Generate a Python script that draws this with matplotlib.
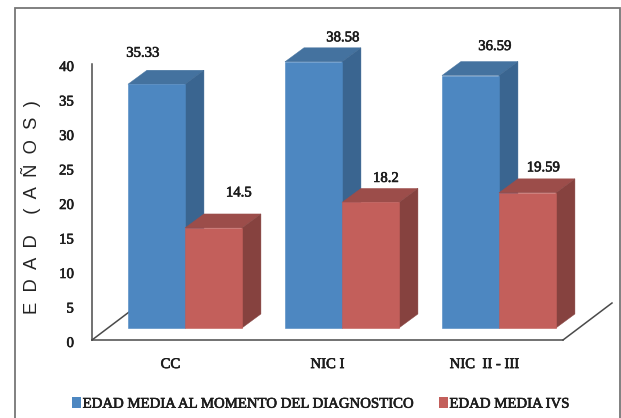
import matplotlib
matplotlib.use("Agg")
import matplotlib.pyplot as plt
import matplotlib.patheffects as pe
from matplotlib.patches import Polygon, Patch, Rectangle
from matplotlib.transforms import ScaledTranslation

categories = ["CC", "NIC I", "NIC  II - III"]
edad_diagnostico = [35.33, 38.58, 36.59]
edad_ivs = [14.5, 18.2, 19.59]
y_ticks = [0, 5, 10, 15, 20, 25, 30, 35, 40]
series_names = ["EDAD MEDIA AL MOMENTO DEL DIAGNOSTICO", "EDAD MEDIA IVS"]

# pixel offsets of each value label from the top of its bar's front face
diag_label_offsets = [(-13.5, 31), (29.5, 24), (24.5, 29)]
ivs_label_offsets = [(25.5, 35), (15.5, 24), (16, 25)]

W, H = 621, 418
SERIF = "Liberation Serif"
TEXT = "#1c1c1c"
BLUE = ("#4d87c1", "#44729f", "#3a6590")
RED = ("#c35f5b", "#9c4d4a", "#86423f")
HEAVY = [pe.withStroke(linewidth=0.45, foreground=TEXT)]

fig = plt.figure(figsize=(W / 100, H / 100), dpi=100, facecolor="white")
ax = fig.add_axes([92 / W, (H - 340) / H, (563 - 92) / W, (340 - 64) / H])
ax.set_xlim(0, 3)
ax.set_ylim(0, 40)
ax.patch.set_visible(False)

# outer frame, running off the bottom of the figure
fig.add_artist(Rectangle((14.5 / W, -0.05), (619.5 - 14.5) / W, (H - 7.5) / H + 0.05,
                         transform=fig.transFigure, fill=False,
                         edgecolor="#767676", linewidth=1.3))

# 3D box geometry, in data units
BAR_W = 0.363
DEPTH_X = 19 / 157
DEPTH_Y = 14 / 6.9
BASE_Y = 12 / 6.9
FIRST_X = 0.229
FLOOR_X = 49 / 157
FLOOR_Y = 37 / 6.9

# floor outline
floor_style = dict(color="#4a4a4a", linewidth=1.1, clip_on=False, zorder=1)
ax.plot([0, FLOOR_X], [0, FLOOR_Y], **floor_style)
ax.plot([3, 3 + FLOOR_X], [0, FLOOR_Y], **floor_style)


def box(x, value, colors, z):
    front, top, side = colors
    y0, y1 = BASE_Y, BASE_Y + value
    x1 = x + BAR_W
    ax.add_patch(Polygon([(x, y1), (x1, y1), (x1 + DEPTH_X, y1 + DEPTH_Y), (x + DEPTH_X, y1 + DEPTH_Y)],
                         facecolor=top, edgecolor=top, linewidth=0.3, clip_on=False, zorder=z))
    ax.add_patch(Polygon([(x1, y0), (x1 + DEPTH_X, y0 + DEPTH_Y), (x1 + DEPTH_X, y1 + DEPTH_Y), (x1, y1)],
                         facecolor=side, edgecolor=side, linewidth=0.3, clip_on=False, zorder=z))
    ax.add_patch(Polygon([(x, y0), (x1, y0), (x1, y1), (x, y1)],
                         facecolor=front, edgecolor=front, linewidth=0.4, clip_on=False, zorder=z + 0.1))


for i, cat in enumerate(categories):
    x_blue = i + FIRST_X
    x_red = x_blue + BAR_W
    box(x_blue, edad_diagnostico[i], BLUE, 2)
    box(x_red, edad_ivs[i], RED, 3)
    for x, v, off in ((x_blue, edad_diagnostico[i], diag_label_offsets[i]),
                      (x_red, edad_ivs[i], ivs_label_offsets[i])):
        ax.annotate(f"{v:g}", xy=(x + BAR_W / 2, BASE_Y + v), xytext=(off[0] * 0.72, off[1] * 0.72),
                    textcoords="offset points", ha="center", va="center",
                    family=SERIF, fontsize=10.6, color=TEXT, annotation_clip=False,
                    path_effects=HEAVY)

# axes
for s in ("top", "right"):
    ax.spines[s].set_visible(False)
for s in ("left", "bottom"):
    ax.spines[s].set_color("#4a4a4a")
    ax.spines[s].set_linewidth(1.1)
ax.set_yticks(y_ticks)
ax.set_xticks([i + 0.5 for i in range(len(categories))], categories)
ax.tick_params(axis="y", length=0, pad=13)
ax.tick_params(axis="x", length=0, pad=13)
shift = ScaledTranslation(0, -2 / 100, fig.dpi_scale_trans)
for t in ax.get_yticklabels():
    t.set_transform(t.get_transform() + shift)
for t in ax.get_xticklabels() + ax.get_yticklabels():
    t.set_family(SERIF)
    t.set_fontsize(10.6)
    t.set_color(TEXT)
    t.set_path_effects(HEAVY)

fig.text(31 / W, 1 - 207 / H, "E  D  A  D    (  A  Ñ  O  S  )", rotation=90, ha="center", va="center",
         family="Liberation Sans", fontsize=13.2, color="#222222")

leg = fig.legend(handles=[Patch(facecolor=BLUE[0], label=series_names[0]),
                          Patch(facecolor=RED[0], label=series_names[1])],
                 loc="center left", bbox_to_anchor=(72 / W, 1 - 404 / H), ncol=2, frameon=False,
                 prop=dict(family=SERIF, size=10.65), labelcolor=TEXT,
                 handlelength=0.62, handleheight=0.7, handletextpad=0.1, columnspacing=1.76,
                 borderpad=0, borderaxespad=0)
for t in leg.get_texts():
    t.set_path_effects(HEAVY)

fig.savefig("out.png", dpi=100)
